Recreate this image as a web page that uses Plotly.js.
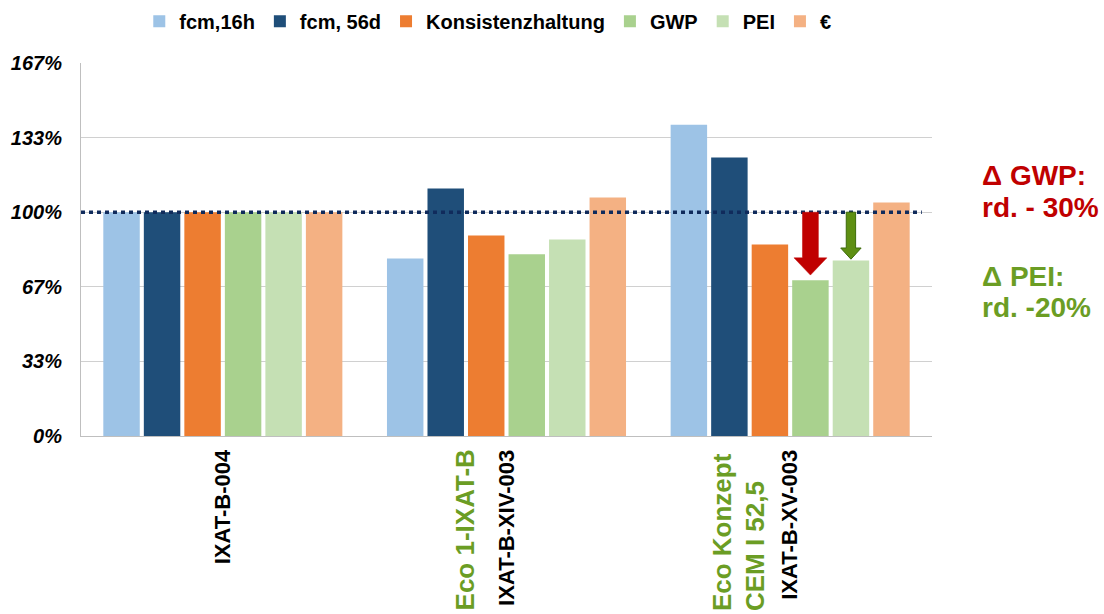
<!DOCTYPE html>
<html>
<head>
<meta charset="utf-8">
<script src="https://cdn.plot.ly/plotly-3.0.1.min.js"></script>
<style>html,body{margin:0;padding:0;background:#fff;}#chart{width:1104px;height:614px;}</style>
</head>
<body>
<div id="chart"></div>
<script>
// ---- data ----
const categories = ['IXAT-B-004', 'IXAT-B-XIV-003', 'IXAT-B-XV-003'];
const greenLabels = ['', 'Eco 1-IXAT-B', 'Eco Konzept<br>CEM I 52,5'];
const seriesNames = ['fcm,16h', 'fcm, 56d', 'Konsistenzhaltung', 'GWP', 'PEI', '€'];
const fcm16h      = [1.00, 0.793, 1.391];
const fcm56d      = [1.00, 1.106, 1.244];
const konsistenz  = [1.00, 0.896, 0.856];
const gwp         = [1.00, 0.812, 0.696];
const pei         = [1.00, 0.878, 0.784];
const euro        = [1.00, 1.066, 1.043];
const yTickVals   = [0, 1/3, 2/3, 1, 4/3, 5/3];
const yTickText   = ['0%', '33%', '67%', '100%', '133%', '167%'];
const noteGWP     = ['Δ GWP:', 'rd. - 30%'];
const notePEI     = ['Δ PEI:', 'rd. -20%'];
const reference   = 1.0;

// ---- styles ----
const colors = ['#9dc3e6', '#1f4e79', '#ed7d31', '#a9d18e', '#c5e0b4', '#f4b183'];
const FONT = 'Liberation Sans, Arial, sans-serif';
const RED = '#c00000', GREEN = '#6b9d24';
const BARGAP = 0.143, GROUPGAP = 0.1;

const values = [fcm16h, fcm56d, konsistenz, gwp, pei, euro];
const traces = values.map((v, k) => ({
  type: 'bar', name: seriesNames[k], x: categories, y: v,
  marker: {color: colors[k], line: {width: 0}},
  hoverinfo: 'skip'
}));

// center of bar k in category i (group geometry of Plotly grouped bars)
function barCenter(i, k) {
  const gw = 1 - BARGAP, n = values.length;
  return i - gw / 2 + (k + 0.5) * gw / n;
}
function arrowPath(xc, yTop, yTip, shaftHalf, headHalf, headLen) {
  const yh = yTip + headLen;
  return `M ${xc - shaftHalf},${yTop} L ${xc + shaftHalf},${yTop} L ${xc + shaftHalf},${yh} ` +
         `L ${xc + headHalf},${yh} L ${xc},${yTip} L ${xc - headHalf},${yh} L ${xc - shaftHalf},${yh} Z`;
}

const shapes = [
  {type: 'line', xref: 'paper', yref: 'y', x0: 0, x1: 0.988, y0: reference, y1: reference,
   line: {color: '#102b5c', width: 3.5, dash: '4px,4px'}},
  {type: 'path', xref: 'x', yref: 'y',
   path: arrowPath(barCenter(2, 3), reference, gwp[2] + 0.023, 0.028, 0.058, 0.077),
   fillcolor: RED, line: {color: RED, width: 0.5}},
  {type: 'path', xref: 'x', yref: 'y',
   path: arrowPath(barCenter(2, 4), reference, pei[2] + 0.006, 0.0165, 0.036, 0.05),
   fillcolor: '#5e8f12', line: {color: '#3d6b0a', width: 1}}
];

const annotations = [];
// green concept labels below the axis
const greenX = [null, 0.4514, 0.7724];
greenLabels.forEach((t, i) => {
  if (!t) return;
  annotations.push({text: '<b>' + t + '</b>', xref: 'paper', yref: 'paper', x: greenX[i], y: -0.474,
    xanchor: 'center', yanchor: 'bottom', textangle: -90, align: 'left', showarrow: false,
    font: {family: FONT, size: 26, color: GREEN, weight: 700}});
});
// right-hand notes
const noteY = [0.699, 0.613, 0.4286, 0.3456];
[...noteGWP, ...notePEI].forEach((t, j) => {
  annotations.push({text: '<b>' + t + '</b>', xref: 'paper', yref: 'paper', x: 1.0564, y: noteY[j],
    xanchor: 'left', yanchor: 'middle', showarrow: false,
    font: {family: FONT, size: 28, color: j < 2 ? RED : GREEN, weight: 700}});
});

const layout = {
  width: 1104, height: 614,
  margin: {l: 81, r: 172, t: 63, b: 178, pad: 0, autoexpand: false},
  paper_bgcolor: '#ffffff', plot_bgcolor: '#ffffff',
  font: {family: FONT, color: '#000000'},
  barmode: 'group', bargap: BARGAP, bargroupgap: GROUPGAP,
  showlegend: true,
  legend: {orientation: 'h', x: 0.478, xanchor: 'center', y: 1.1117, yanchor: 'middle',
    font: {family: FONT, size: 20, color: '#000000', weight: 700},
    itemwidth: 30, traceorder: 'normal', bgcolor: 'rgba(0,0,0,0)'},
  xaxis: {type: 'category', showgrid: false, zeroline: false,
    showline: true, linecolor: '#bfbfbf', linewidth: 1,
    ticks: '', tickangle: -90, ticklabelstandoff: 4,
    tickfont: {family: FONT, size: 22, color: '#000000', weight: 700}},
  yaxis: {range: [0, 5/3], tickvals: yTickVals, ticktext: yTickText,
    showgrid: true, gridcolor: '#d0d0d0', gridwidth: 1, zeroline: false,
    showline: true, linecolor: '#bfbfbf', linewidth: 1,
    ticks: '', ticklabelstandoff: 14,
    tickfont: {family: FONT, size: 20, color: '#000000', weight: 700, style: 'italic'}},
  shapes: shapes,
  annotations: annotations,
  hovermode: false
};

Plotly.newPlot('chart', traces, layout, {displayModeBar: false, staticPlot: true});
</script>
</body>
</html>
